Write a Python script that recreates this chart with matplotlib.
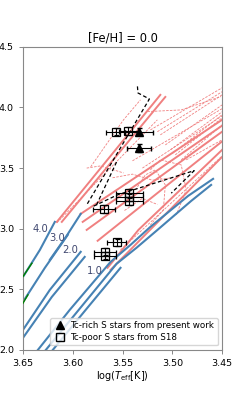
import matplotlib
matplotlib.use('Agg')
import matplotlib.pyplot as plt
from matplotlib.lines import Line2D

# ── stellar tracks (log Teff, log L) ───────────────────────────────────────
blue_tracks = [
    ([3.650, 3.633, 3.618], [2.602, 2.825, 3.056]),                   # 4.0
    ([3.650, 3.628, 3.605], [2.396, 2.677, 2.949]),                   # 3.0
    ([3.623, 3.607, 3.592], [2.743, 2.930, 3.122]),
    ([3.650, 3.623, 3.592], [2.165, 2.495, 2.809]),                   # 2.0
    ([3.650, 3.621, 3.588], [2.099, 2.437, 2.767]),
    ([3.635, 3.603, 3.562, 3.542, 3.522, 3.484, 3.459],
     [2.000, 2.330, 2.726, 2.866, 3.015, 3.271, 3.411]),              # 1.0
    ([3.627, 3.594, 3.556, 3.536, 3.516, 3.481, 3.461],
     [2.000, 2.330, 2.710, 2.842, 2.982, 3.229, 3.361]),
    ([3.620, 3.587, 3.552], [2.000, 2.330, 2.677]),
]
green_tracks = [
    ([3.650, 3.641], [2.605, 2.715]),
    ([3.650, 3.645], [2.385, 2.454]),
]
red_solid = [
    ([3.616, 3.512], [3.056, 4.104]),
    ([3.611, 3.507], [3.056, 4.087]),
    ([3.592, 3.450], [3.122, 3.898]),
    ([3.590, 3.450], [3.056, 3.850]),
    ([3.586, 3.450], [2.990, 3.800]),
    ([3.575, 3.450], [2.900, 3.720]),
    ([3.565, 3.534, 3.450], [2.677, 2.990, 3.650]),
    ([3.562, 3.450], [2.660, 3.592]),
]
red_dashed = [
    ([3.616, 3.515], [3.048, 3.898]),
    ([3.582, 3.549, 3.532], [3.510, 3.898, 4.063]),
    ([3.552, 3.451], [2.825, 3.592]),
    ([3.525, 3.491, 3.451], [3.966, 3.980, 4.090]),
    ([3.522, 3.450], [3.815, 4.162]),
    ([3.515, 3.450], [3.800, 4.130]),
    ([3.512, 3.450], [3.774, 4.104]),
    ([3.507, 3.450], [3.691, 4.021]),
    ([3.502, 3.450], [3.650, 3.964]),
    ([3.500, 3.450], [3.620, 3.940]),
    ([3.497, 3.450], [3.609, 3.914]),
    ([3.491, 3.450], [3.568, 3.856]),
    ([3.486, 3.450], [3.568, 3.733]),
    ([3.540, 3.450], [3.560, 3.990]),
    ([3.530, 3.450], [3.500, 3.930]),
    ([3.537, 3.527, 3.517, 3.507, 3.509, 3.522], [3.320, 3.444, 3.485, 3.361, 3.155, 3.031]),
    ([3.522, 3.512, 3.491, 3.486, 3.496], [3.485, 3.568, 3.526, 3.320, 3.114]),
    ([3.586, 3.572, 3.549], [3.500, 3.518, 3.460]),
    ([3.560, 3.540, 3.520, 3.500], [3.420, 3.450, 3.400, 3.420]),
    ([3.548, 3.530, 3.515], [3.150, 3.250, 3.200]),
]
black_dashed = [
    ([3.535, 3.5345, 3.523, 3.586], [4.174, 4.120, 4.070, 3.196]),
    ([3.556, 3.577], [3.550, 3.180]),
    ([3.579, 3.555, 3.478, 3.501], [3.186, 3.279, 3.479, 3.293]),
]
mass_labels = ['4.0', '3.0', '2.0', '1.0']
mass_x = [3.632, 3.616, 3.603, 3.578]
mass_y = [2.996, 2.922, 2.827, 2.652]

# ── stars ───────────────────────────────────────────────────────────────────
rich_teff = [3.533, 3.533]
rich_logl = [3.800, 3.665]
rich_xerr = [0.014, 0.012]

poor_teff = [3.557, 3.544, 3.543, 3.543, 3.543, 3.569, 3.556, 3.568, 3.568]
poor_logl = [3.800, 3.805, 3.295, 3.260, 3.225, 3.163, 2.887, 2.810, 2.778]
poor_xerr = [0.010, 0.010, 0.014, 0.014, 0.014, 0.011, 0.010, 0.011, 0.011]
yerr_all = 0.03

fig = plt.figure(figsize=(2.47, 3.94), dpi=100)
ax = fig.add_axes([0.093, 0.112, 0.806, 0.769])

for xs, ys in red_solid:
    ax.plot(xs, ys, color='lightcoral', lw=1.4, zorder=1)
for xs, ys in red_dashed:
    ax.plot(xs, ys, color='lightcoral', lw=0.6, ls='--', dashes=(3, 1.5), zorder=1)
for xs, ys in blue_tracks:
    ax.plot(xs, ys, color='steelblue', lw=1.5, zorder=2)
for xs, ys in green_tracks:
    ax.plot(xs, ys, color='green', lw=1.0, zorder=3)
for xs, ys in black_dashed:
    ax.plot(xs, ys, color='black', lw=0.9, ls='--', dashes=(3, 2), zorder=4)

for lab, x, y in zip(mass_labels, mass_x, mass_y):
    ax.text(x, y, lab, color='#404870', fontsize=7.2, ha='center', va='center', zorder=6)

ax.errorbar(poor_teff, poor_logl, xerr=poor_xerr, yerr=yerr_all, fmt='s',
            mfc='none', mec='black', ms=6, mew=0.9, ecolor='black',
            elinewidth=0.8, capsize=1.8, zorder=5)
ax.errorbar(rich_teff, rich_logl, xerr=rich_xerr, yerr=yerr_all, fmt='^',
            color='black', ms=6, ecolor='black', elinewidth=0.8, capsize=1.8, zorder=5)

handles = [
    Line2D([0], [0], marker='^', color='black', ls='none', ms=6),
    Line2D([0], [0], marker='s', mfc='none', mec='black', ls='none', ms=6),
]
ax.legend(handles, ['Tc-rich S stars from present work', 'Tc-poor S stars from S18'],
          loc='lower right', fontsize=6.3, handletextpad=0.5, borderpad=0.4,
          labelspacing=0.3, handlelength=1.4)

ax.set_xlim(3.65, 3.45)
ax.set_ylim(2.0, 4.5)
ax.set_xticks([3.65, 3.60, 3.55, 3.50, 3.45])
ax.set_yticks([2.0, 2.5, 3.0, 3.5, 4.0, 4.5])
ax.tick_params(labelsize=6.8, color='#888888', length=3, width=0.7)
for spine in ax.spines.values():
    spine.set_edgecolor('#888888')
ax.set_xlabel(r'log($T_{\rm eff}$[K])', fontsize=7, labelpad=1)
ax.set_title('[Fe/H] = 0.0', fontsize=8.3, pad=4)

fig.savefig('out.png', dpi=100)
